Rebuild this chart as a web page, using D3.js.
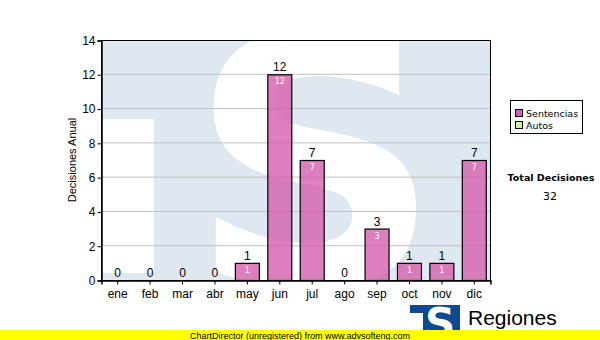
<!DOCTYPE html>
<html>
<head>
<meta charset="utf-8">
<script src="https://cdn.jsdelivr.net/npm/d3@7"></script>
<style>
  body { margin: 0; background: #fff; }
  svg { display: block; }
</style>
</head>
<body>
<div id="chart"></div>
<script>
// Data
const months = ["ene", "feb", "mar", "abr", "may", "jun", "jul", "ago", "sep", "oct", "nov", "dic"];
const sentencias = [0, 0, 0, 0, 1, 12, 7, 0, 3, 1, 1, 7];
const autos = [0, 0, 0, 0, 0, 0, 0, 0, 0, 0, 0, 0];
const yTicks = [0, 2, 4, 6, 8, 10, 12, 14];
const legendItems = ["Sentencias", "Autos"];
const legendColors = ["#d45fae", "#d4eea0"];
const totalDecisiones = d3.sum(sentencias) + d3.sum(autos);

const W = 600, H = 340;
const plot = { left: 101, right: 490, top: 40, bottom: 280 };

const svg = d3.select("#chart").append("svg")
  .attr("width", W)
  .attr("height", H);

const x = d3.scaleBand()
  .domain(months)
  .range([plot.left, plot.right])
  .paddingInner(0.26)
  .paddingOuter(0.13);

const y = d3.scaleLinear()
  .domain([0, 14])
  .range([plot.bottom, plot.top]);

// Watermark background (big logo)
svg.append("clipPath").attr("id", "plotclip")
  .append("rect")
  .attr("x", plot.left).attr("y", plot.top)
  .attr("width", plot.right - plot.left).attr("height", plot.bottom - plot.top);

const wm = svg.append("g").attr("clip-path", "url(#plotclip)");
wm.append("rect")
  .attr("x", plot.left).attr("y", plot.top)
  .attr("width", plot.right - plot.left).attr("height", plot.bottom - plot.top)
  .attr("fill", "#dfe8f1");
wm.append("rect")
  .attr("x", plot.left).attr("y", 119)
  .attr("width", 53).attr("height", 154)
  .attr("fill", "#fff");
wm.append("text")
  .attr("transform", "translate(315,285) scale(1.02,1.0)")
  .attr("text-anchor", "middle")
  .style("font-family", "DejaVu Sans, Verdana, sans-serif")
  .style("font-weight", "bold")
  .style("font-size", "345px")
  .attr("fill", "#fff")
  .text("S");

// Grid lines
svg.append("g")
  .selectAll("line")
  .data(yTicks.filter(d => d > 0 && d < 14))
  .enter()
  .append("line")
  .attr("x1", plot.left).attr("x2", plot.right)
  .attr("y1", d => y(d)).attr("y2", d => y(d))
  .attr("stroke", "#c0c0c0")
  .attr("stroke-width", 1);

// Bars
svg.append("g")
  .selectAll("rect")
  .data(months.map((m, i) => ({ m: m, v: sentencias[i] })).filter(d => d.v > 0))
  .enter()
  .append("rect")
  .attr("x", d => x(d.m) + 0.5)
  .attr("y", d => y(d.v) + 0.5)
  .attr("width", x.bandwidth())
  .attr("height", d => y(0) - y(d.v))
  .attr("fill", legendColors[0])
  .attr("fill-opacity", 0.8)
  .attr("stroke", "#000")
  .attr("stroke-width", 1.2);

// Value labels above bars
svg.append("g")
  .selectAll("text")
  .data(months.map((m, i) => ({ m: m, v: sentencias[i] })))
  .enter()
  .append("text")
  .attr("x", d => x(d.m) + x.bandwidth() / 2 + 0.5)
  .attr("y", d => y(d.v) - 3)
  .attr("text-anchor", "middle")
  .style("font-family", "Liberation Sans, Arial, sans-serif")
  .style("font-size", "12px")
  .attr("fill", "#000")
  .text(d => d.v);

// Value labels inside bars
svg.append("g")
  .selectAll("text")
  .data(months.map((m, i) => ({ m: m, v: sentencias[i] })).filter(d => d.v > 0))
  .enter()
  .append("text")
  .attr("x", d => x(d.m) + x.bandwidth() / 2 + 0.5)
  .attr("y", d => y(d.v) + 10)
  .attr("text-anchor", "middle")
  .style("font-family", "DejaVu Sans, Verdana, sans-serif")
  .style("font-size", "8px")
  .attr("fill", "#fff")
  .text(d => d.v);

// Frame
svg.append("rect")
  .attr("x", plot.left + 0.5).attr("y", plot.top + 0.5)
  .attr("width", plot.right - plot.left).attr("height", plot.bottom - plot.top)
  .attr("fill", "none")
  .attr("stroke", "#000")
  .attr("stroke-width", 1);

// Axes
const yAxis = svg.append("g")
  .attr("transform", `translate(${plot.left + 0.5},0.5)`)
  .call(d3.axisLeft(y).tickValues(yTicks).tickSize(4).tickPadding(2));
const xAxis = svg.append("g")
  .attr("transform", `translate(0.5,${plot.bottom + 0.5})`)
  .call(d3.axisBottom(x).tickSize(4).tickPadding(3));

[yAxis, xAxis].forEach(ax => {
  ax.select(".domain").attr("stroke", "#000").attr("stroke-width", 1.5);
  ax.selectAll(".tick line").attr("stroke", "#000");
  ax.selectAll("text")
    .style("font-family", "Liberation Sans, Arial, sans-serif")
    .style("font-size", "12px")
    .attr("fill", "#000");
});
xAxis.selectAll("text").attr("dy", "0.9em");

svg.append("text")
  .attr("transform", "translate(76,160) rotate(-90)")
  .attr("text-anchor", "middle")
  .style("font-family", "Liberation Sans, Arial, sans-serif")
  .style("font-size", "11px")
  .attr("fill", "#000")
  .text("Decisiones Anual");

// Legend
const lg = svg.append("g");
lg.append("rect")
  .attr("x", 510.5).attr("y", 100.5)
  .attr("width", 72).attr("height", 33)
  .attr("fill", "#fff")
  .attr("stroke", "#000");
legendItems.forEach((name, i) => {
  lg.append("rect")
    .attr("x", 515.5).attr("y", 109.5 + i * 12)
    .attr("width", 7).attr("height", 7)
    .attr("fill", legendColors[i])
    .attr("stroke", "#000");
  lg.append("text")
    .attr("x", 526).attr("y", 117 + i * 12)
    .style("font-family", "DejaVu Sans, Verdana, sans-serif")
    .style("font-size", "9.5px")
    .attr("fill", "#000")
    .text(name);
});

svg.append("text")
  .attr("x", 551).attr("y", 181)
  .attr("text-anchor", "middle")
  .style("font-family", "DejaVu Sans, Verdana, sans-serif")
  .style("font-size", "9.5px")
  .style("font-weight", "bold")
  .attr("fill", "#000")
  .text("Total Decisiones");
svg.append("text")
  .attr("x", 550).attr("y", 200)
  .attr("text-anchor", "middle")
  .style("font-family", "DejaVu Sans, Verdana, sans-serif")
  .style("font-size", "11px")
  .attr("fill", "#000")
  .text(totalDecisiones);

// Logo bottom right
const logo = svg.append("g");
logo.append("clipPath").attr("id", "logoclip")
  .append("rect").attr("x", 410).attr("y", 305).attr("width", 50).attr("height", 30);
const lgi = logo.append("g").attr("clip-path", "url(#logoclip)");
lgi.append("rect").attr("x", 410).attr("y", 305).attr("width", 50).attr("height", 30).attr("fill", "#0b4a8f");
lgi.append("rect").attr("x", 410).attr("y", 313).attr("width", 13).attr("height", 22).attr("fill", "#fff");
lgi.append("text")
  .attr("x", 440).attr("y", 338)
  .attr("text-anchor", "middle")
  .style("font-family", "DejaVu Sans, Verdana, sans-serif")
  .style("font-weight", "bold")
  .style("font-size", "42px")
  .attr("fill", "#fff")
  .text("S");
svg.append("text")
  .attr("x", 468).attr("y", 325)
  .style("font-family", "Liberation Sans, Arial, sans-serif")
  .style("font-size", "21px")
  .attr("fill", "#000")
  .text("Regiones");
svg.append("text")
  .attr("x", 468).attr("y", 338)
  .style("font-family", "Liberation Sans, Arial, sans-serif")
  .style("font-size", "10px")
  .attr("fill", "#000")
  .text("Tribunal Supremo de Justicia");

// Unregistered banner
svg.append("rect")
  .attr("x", 0).attr("y", 330)
  .attr("width", W).attr("height", 10)
  .attr("fill", "#ffff00");
svg.append("text")
  .attr("x", 300).attr("y", 338.5)
  .attr("text-anchor", "middle")
  .style("font-family", "Liberation Sans, Arial, sans-serif")
  .style("font-size", "9px")
  .attr("fill", "#000")
  .text("ChartDirector (unregistered) from www.advsofteng.com");
</script>
</body>
</html>
